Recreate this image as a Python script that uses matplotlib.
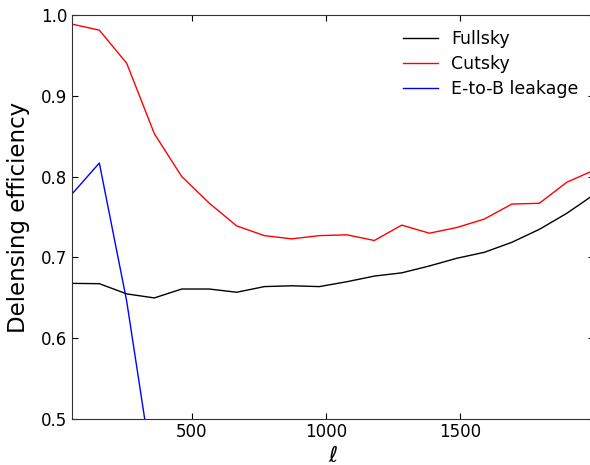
import matplotlib
matplotlib.use('Agg')
import matplotlib.pyplot as plt

## Data
ell = [52, 155, 257, 360, 462, 565, 667, 770, 872, 975,
       1077, 1180, 1282, 1385, 1487, 1590, 1692, 1795, 1897, 2000]
fullsky = [0.668, 0.6676, 0.655, 0.650, 0.661, 0.661, 0.657, 0.664, 0.665, 0.664,
           0.670, 0.677, 0.681, 0.6895, 0.699, 0.7064, 0.7187, 0.7348, 0.7546, 0.778]
cutsky = [0.9885, 0.981, 0.940, 0.853, 0.800, 0.767, 0.739, 0.727, 0.723, 0.727,
          0.728, 0.721, 0.740, 0.730, 0.737, 0.7475, 0.766, 0.767, 0.793, 0.808]
leak_ell = [52, 155, 257, 360]
leakage = [0.778, 0.8167, 0.646, 0.4225]

## Plot
fig = plt.figure(figsize=(5.9, 4.65), dpi=100)
ax = fig.add_axes([0.1215, 0.0983, 0.886, 0.870])
ax.plot(ell, fullsky, color='k', lw=1.0, label='Fullsky')
ax.plot(ell, cutsky, color='r', lw=1.0, label='Cutsky')
ax.plot(leak_ell, leakage, color='b', lw=1.0, label='E-to-B leakage')

ax.set_xlim(52, 2000)
ax.set_ylim(0.5, 1.0)
ax.set_xticks([500, 1000, 1500])
ax.set_yticks([0.5, 0.6, 0.7, 0.8, 0.9, 1.0])
ax.tick_params(direction='in', top=True, right=True, labelsize=12, length=4, pad=3)
for s in ax.spines.values():
    s.set_color('#333333')
ax.set_xlabel(r'$\ell$', fontsize=16, labelpad=3)
ax.set_ylabel('Delensing efficiency', fontsize=16.5, labelpad=8)
ax.legend(loc='upper right', frameon=False, fontsize=12.5, handlelength=2.0,
          handletextpad=0.8, labelspacing=0.4)

fig.savefig('out.png', dpi=100)
